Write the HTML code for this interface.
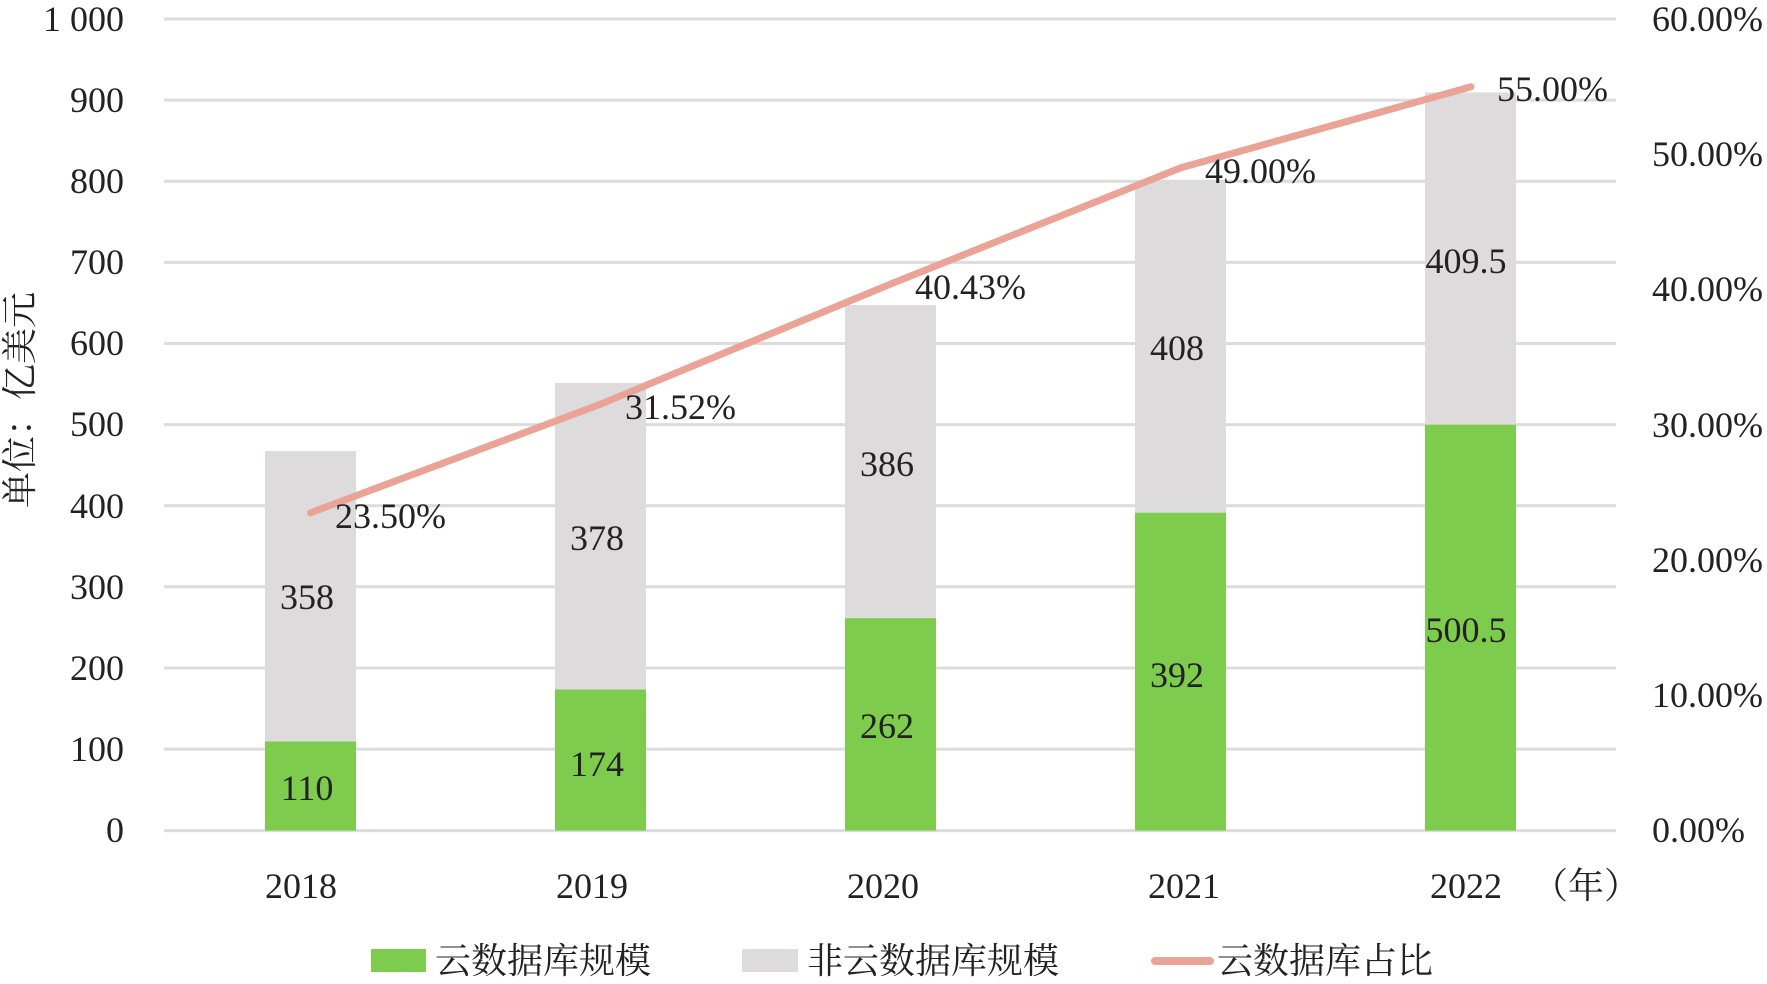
<!DOCTYPE html>
<html><head><meta charset="utf-8"><style>
html,body{margin:0;padding:0;background:#fff;}
svg text{font-family:"Liberation Serif","Noto Serif CJK SC",serif;fill:#222;}
</style></head><body>
<svg width="1767" height="979" viewBox="0 0 1767 979" xmlns="http://www.w3.org/2000/svg">
<g stroke="#dcdcdc" stroke-width="3">
<line x1="164" y1="19" x2="1616" y2="19"/>
<line x1="164" y1="100.1" x2="1616" y2="100.1"/>
<line x1="164" y1="181.2" x2="1616" y2="181.2"/>
<line x1="164" y1="262.4" x2="1616" y2="262.4"/>
<line x1="164" y1="343.5" x2="1616" y2="343.5"/>
<line x1="164" y1="424.6" x2="1616" y2="424.6"/>
<line x1="164" y1="505.7" x2="1616" y2="505.7"/>
<line x1="164" y1="586.8" x2="1616" y2="586.8"/>
<line x1="164" y1="668" x2="1616" y2="668"/>
<line x1="164" y1="749.1" x2="1616" y2="749.1"/>
<line x1="164" y1="830.6" x2="1616" y2="830.6"/>
</g>
<g font-size="36" text-anchor="end">
<text x="124" y="31">1 000</text>
<text x="124" y="112">900</text>
<text x="124" y="193">800</text>
<text x="124" y="274">700</text>
<text x="124" y="355">600</text>
<text x="124" y="436">500</text>
<text x="124" y="518">400</text>
<text x="124" y="599">300</text>
<text x="124" y="680">200</text>
<text x="124" y="761">100</text>
<text x="124" y="842">0</text>
</g>
<g font-size="36">
<text x="1652" y="31">60.00%</text>
<text x="1652" y="166">50.00%</text>
<text x="1652" y="301">40.00%</text>
<text x="1652" y="437">30.00%</text>
<text x="1652" y="572">20.00%</text>
<text x="1652" y="707">10.00%</text>
<text x="1652" y="842">0.00%</text>
</g>
<text font-size="36" transform="translate(32,400) rotate(-90)" text-anchor="middle">单位：亿美元</text>
<g>
<rect x="265" y="741.4" width="91" height="89.2" fill="#7ecc4e"/>
<rect x="265" y="451.0" width="91" height="290.4" fill="#dddbdb"/>
<rect x="555" y="689.5" width="91" height="141.1" fill="#7ecc4e"/>
<rect x="555" y="382.9" width="91" height="306.6" fill="#dddbdb"/>
<rect x="845" y="618.1" width="91" height="212.5" fill="#7ecc4e"/>
<rect x="845" y="305.0" width="91" height="313.1" fill="#dddbdb"/>
<rect x="1135" y="512.6" width="91" height="318" fill="#7ecc4e"/>
<rect x="1135" y="181.7" width="91" height="330.9" fill="#dddbdb"/>
<rect x="1425" y="424.6" width="91" height="406" fill="#7ecc4e"/>
<rect x="1425" y="92.4" width="91" height="332.2" fill="#dddbdb"/>
</g>
<g font-size="36" text-anchor="middle">
<text x="307" y="800">110</text>
<text x="307" y="609">358</text>
<text x="597" y="776">174</text>
<text x="597" y="550">378</text>
<text x="887" y="738">262</text>
<text x="887" y="476">386</text>
<text x="1177" y="687">392</text>
<text x="1177" y="360">408</text>
<text x="1466" y="642">500.5</text>
<text x="1466" y="273">409.5</text>
</g>
<polyline points="310.5,512.8 600,404.4 891,283.9 1180.5,167.9 1471,86.8" fill="none" stroke="#eba396" stroke-width="7" stroke-linecap="round" stroke-linejoin="round"/>
<g font-size="36">
<text x="335" y="528">23.50%</text>
<text x="625" y="419">31.52%</text>
<text x="915" y="299">40.43%</text>
<text x="1205" y="183">49.00%</text>
<text x="1497" y="101">55.00%</text>
</g>
<g font-size="36" text-anchor="middle">
<text x="301" y="898">2018</text>
<text x="592" y="898">2019</text>
<text x="883" y="898">2020</text>
<text x="1184" y="898">2021</text>
<text x="1466" y="898">2022</text>
</g>
<text x="1532" y="898" font-size="36">（年）</text>
<rect x="371" y="949" width="55" height="23" fill="#7ecc4e"/>
<text x="435" y="973" font-size="36">云数据库规模</text>
<rect x="742" y="949" width="56" height="23" fill="#dddbdb"/>
<text x="807" y="973" font-size="36">非云数据库规模</text>
<line x1="1155" y1="961" x2="1210" y2="961" stroke="#eba396" stroke-width="8" stroke-linecap="round"/>
<text x="1217" y="973" font-size="36">云数据库占比</text>
</svg>
</body></html>
